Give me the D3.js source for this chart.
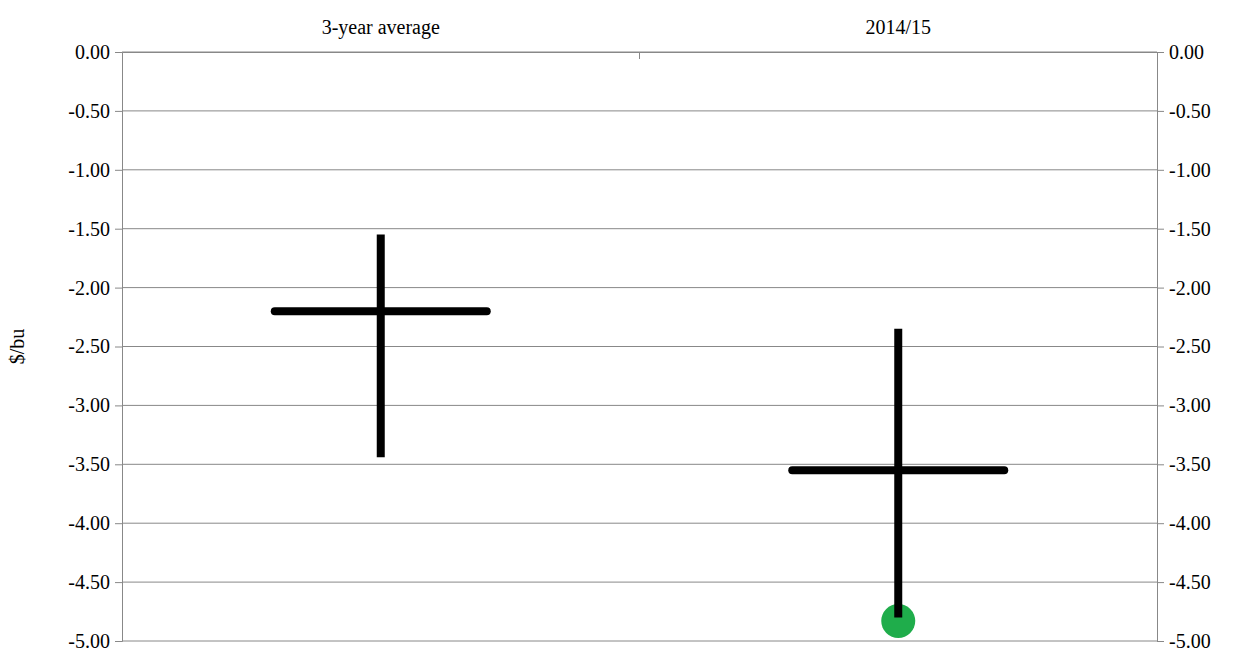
<!DOCTYPE html>
<html lang="en">
<head>
<meta charset="UTF-8">
<script src="https://d3js.org/d3.v7.min.js"></script>
<style>
  body { margin: 0; background: #fff; }
  svg text { font-family: "Liberation Serif", serif !important; font-size: 20px !important; fill: #000; }
</style>
</head>
<body>
<svg width="1247" height="653"></svg>
<script>
  const categories = ["3-year average", "2014/15"];
  const highs = [-1.55, -2.35];
  const lows = [-3.44, -4.80];
  const means = [-2.20, -3.55];
  const dots = [null, -4.83];
  const ticks = d3.range(0, -5.01, -0.5);

  const svg = d3.select("svg");
  const pLeft = 122, pRight = 1157, pTop = 52, pBottom = 641;

  const x = d3.scaleBand().domain(categories).range([pLeft, pRight]);
  const y = d3.scaleLinear().domain([0, -5]).range([pTop, pBottom]);
  const fmt = d => d3.format(".2f")(d).replace("−", "-");

  // gridlines
  svg.append("g").selectAll("line").data(ticks).enter().append("line")
    .attr("x1", pLeft).attr("x2", pRight)
    .attr("y1", d => y(d)).attr("y2", d => y(d))
    .attr("stroke", "#888").attr("stroke-width", 1);

  // left and right axes
  const la = svg.append("g").attr("transform", `translate(${pLeft},0)`)
    .call(d3.axisLeft(y).tickValues(ticks).tickFormat(fmt).tickSize(7).tickPadding(5));
  const ra = svg.append("g").attr("transform", `translate(${pRight},0)`)
    .call(d3.axisRight(y).tickValues(ticks).tickFormat(fmt).tickSize(7).tickPadding(5));
  [la, ra].forEach(a => a.selectAll("path, line").attr("stroke", "#888"));

  // top category axis
  const ta = svg.append("g").attr("transform", `translate(0,${pTop})`)
    .call(d3.axisTop(x).tickSize(0).tickPadding(18));
  ta.select("path").attr("stroke", "#888");
  svg.append("line").attr("x1", (pLeft + pRight) / 2).attr("x2", (pLeft + pRight) / 2)
    .attr("y1", pTop).attr("y2", pTop + 7).attr("stroke", "#888");

  svg.append("text").attr("transform", `translate(24,${(pTop + pBottom) / 2}) rotate(-90)`)
    .attr("text-anchor", "middle").text("$/bu");

  const cx = d => x(d) + x.bandwidth() / 2;
  const half = 106;
  categories.forEach((c, i) => {
    if (dots[i] !== null) {
      svg.append("circle").attr("cx", cx(c)).attr("cy", y(dots[i])).attr("r", 17)
        .attr("fill", "#1fad4b");
    }
    svg.append("line").attr("x1", cx(c)).attr("x2", cx(c))
      .attr("y1", y(highs[i])).attr("y2", y(lows[i]))
      .attr("stroke", "#000").attr("stroke-width", 8);
    svg.append("line").attr("x1", cx(c) - half).attr("x2", cx(c) + half)
      .attr("y1", y(means[i])).attr("y2", y(means[i]))
      .attr("stroke", "#000").attr("stroke-width", 8).attr("stroke-linecap", "round");
  });
</script>
</body>
</html>
